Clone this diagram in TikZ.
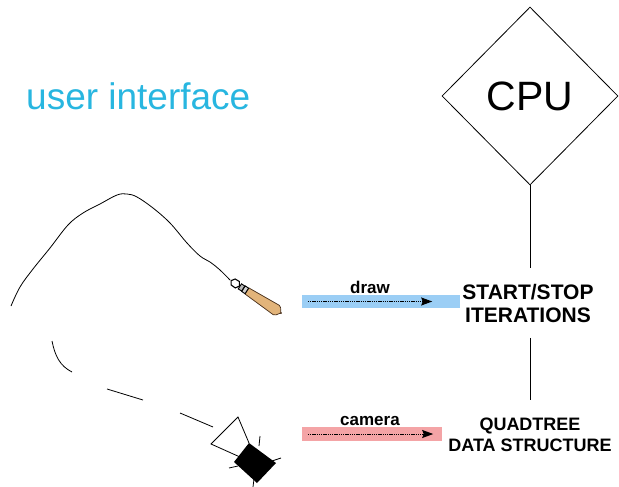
\documentclass[tikz,border=0pt]{standalone}
\usepackage{fontspec}
\setmainfont{Liberation Sans}
\usetikzlibrary{shapes.geometric,arrows.meta}
\definecolor{uicyan}{RGB}{40,182,224}
\definecolor{drawblue}{RGB}{155,206,245}
\definecolor{campink}{RGB}{244,164,166}
\definecolor{handletan}{RGB}{226,180,122}
\definecolor{handleedge}{RGB}{70,45,25}
\begin{document}
\begin{tikzpicture}[x=1pt,y=-1pt,
  thinline/.style={line width=0.8pt,black},
  bartag/.style={font=\fontsize{17}{20}\selectfont\bfseries,inner sep=0pt},
  stagetext/.style={align=center,inner sep=0pt},
  flowbar/.style={rectangle,inner sep=0pt,draw=none},
  flowarrow/.style={line width=1pt,dash pattern=on 1.3pt off 0.9pt,
    -{Stealth[length=11pt,width=8pt,inset=1.5pt]}}]
\useasboundingbox (0,0) rectangle (619,487);

% processor box
\node[diamond,draw,line width=0.8pt,minimum width=176pt,minimum height=178pt,
  inner sep=0pt,font=\fontsize{41}{49}\selectfont] (cpu) at (530,96) {CPU};

% stage labels
\node[stagetext,anchor=north,font=\fontsize{21}{23}\selectfont\bfseries]
  (start) at (528,284) {START/STOP\\ITERATIONS};
\node[stagetext,anchor=north,font=\fontsize{18}{20.5}\selectfont\bfseries]
  (quad) at (530,418) {QUADTREE\\DATA STRUCTURE};

\draw[thinline,shorten >=16pt] (cpu.south) -- (cpu.south |- start.north);
\draw[thinline,shorten <=15pt,shorten >=18pt] (cpu.south |- start.south) -- (cpu.south |- quad.north);

% title
\node[anchor=base west,inner sep=0pt,text=uicyan,font=\fontsize{37}{44}\selectfont]
  (ui) at (26,110) {user interface};

% draw / camera flows
\node[flowbar,fill=drawblue,minimum width=158pt,minimum height=13pt] (drawbar) at (381,301.5) {};
\node[bartag,anchor=base] (drawtag) at (370,293) {draw};
\draw[flowarrow] ([xshift=6pt]drawbar.west) -- ([xshift=-28pt]drawbar.east);

\node[flowbar,fill=campink,minimum width=140pt,minimum height=14pt] (cambar) at (372,434) {};
\node[bartag,anchor=base] (camtag) at (370,425) {camera};
\draw[flowarrow] ([xshift=6pt]cambar.west) -- ([xshift=-9pt]cambar.east);

% brush stroke
\draw[line width=0.8pt] plot[smooth,tension=0.6] coordinates {
  (11,306) (20,287) (33,269) (50,248) (68,225) (83,213) (100,204) (117,195)
  (127,194) (137,197) (153,208) (170,223) (187,243) (200,256) (210,262)
  (220,270) (230,280)};

% camera path, dashed by hand
\draw[line width=0.8pt] (52,341) .. controls (55,356) and (60,366) .. (72,372);
\draw[line width=0.8pt] (107,389) -- (143,400);
\draw[line width=0.8pt] (180,413) -- (213,427);

% brush
\begin{scope}[shift={(247,291)},rotate=-33]
  \draw[fill=handletan,draw=handleedge,line width=0.7pt]
    (0,3.6) -- (35,5.6) to[out=0,in=90] (41,0) to[out=-90,in=0] (35,-5.6) -- (0,-3.6) -- cycle;
  \draw[fill=white,line width=1.1pt]
    (-19,0) -- (-16.5,3.6) -- (-11.5,3.8) -- (-9,0) -- (-11.5,-3.8) -- (-16.5,-3.6) -- cycle;
  \draw[fill=gray!55,line width=0.9pt] (-8.5,-3) rectangle (-4.5,3);
  \draw[fill=gray!35,line width=0.9pt] (-4.2,-3.3) rectangle (-0.2,3.3);
\end{scope}

% camera
\draw[line width=0.8pt] (249,443) -- (238,417) -- (211,444) -- (240,457);
\fill[black] (249,443) -- (276,463) -- (257,483) -- (234,462) -- cycle;
\draw[line width=0.8pt] (260,436) -- (259,446);
\draw[line width=0.8pt] (281,458) -- (272,461);
\draw[line width=0.8pt] (253,487) -- (254,479);
\draw[line width=0.8pt] (229,468) -- (238,466);
\end{tikzpicture}
\end{document}
